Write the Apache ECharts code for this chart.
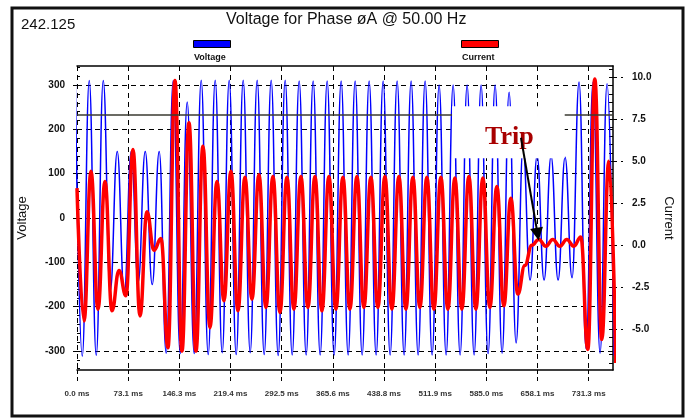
<!DOCTYPE html>
<html><head><meta charset="utf-8">
<script src="https://cdn.jsdelivr.net/npm/echarts@6/dist/echarts.min.js"></script>
<style>html,body{margin:0;padding:0;background:#fff}#c{width:690px;height:419px}</style>
</head><body><div id="c"></div>
<script>
// ---- data ----
const sampleStepMs = 10;          // one half-cycle between extreme samples (50 Hz)
const voltageStartMs = -2.5;      // first voltage sample time
const currentStartMs = 0;         // first current sample time
const voltage = [310,
  -312,310, -310,310, -165,150, -170,150, -145,150, -150,150, -305,310, -306,262,
  -306,311, -308,311, -304,311, -308,311, -304,311, -308,311, -310,311,
  -309,309, -309,309, -309,309, -309,309, -309,309, -309,309, -309,309, -309,309,
  -309,309, -309,309, -309,300, -309,300, -309,300, -309,300, -306,300, -305,284,
  -282,160, -140,140, -140,140, -140,137, -135,307, -295,307, -305,303,
  -310];
const current = [3.4,
  -4.5,4.4, -3.8,3.8, -3.9,-1.5, -3.0,5.7, -4.2,2.0, -0.3,0.4, -6.1,9.8, -6.3,7.3,
  -6.3,5.9, -4.9,3.8, -3.3,4.4, -3.9,4.05, -3.2,4.2, -3.7,4.1, -4.0,4.05,
  -3.8,4.1, -3.7,4.1, -3.9,4.1, -3.8,4.05, -3.8,4.1, -3.7,4.05, -3.7,4.1, -3.8,4.1,
  -3.8,4.05, -3.7,4.05, -3.8,4.05, -3.8,4.0, -3.8,4.1, -3.8,4.0, -3.7,3.5, -3.6,2.8,
  -2.9,-1.2, 0.0,0.35, -0.05,0.35, -0.05,0.35, -0.05,0.5, -6.2,9.9, -5.6,5.0,
  -7.0];
const xTicks = [0, 73.125, 146.25, 219.375, 292.5, 365.625, 438.75, 511.875, 585, 658.125, 731.25];
const xTickLabels = ['0.0 ms','73.1 ms','146.3 ms','219.4 ms','292.5 ms','365.6 ms','438.8 ms','511.9 ms','585.0 ms','658.1 ms','731.3 ms'];
const voltageTicks = [-300,-200,-100,0,100,200,300];
const currentTicks = [-5,-2.5,0,2.5,5,7.5,10];
const timeRange = [0, 766];
const voltageRange = [-343, 343];
const currentRange = [-7.42, 10.67];
const cursorVoltage = 232;
const tripBox = [[536, 252], [697, 135]];          // [ms, V]
const tripArrow = [[634.5, 181], [658.3, -36.6]];  // [ms, V]
const titleText = 'Voltage for Phase øA @ 50.00 Hz';
const cornerText = '242.125';

// ---- build ----
const voltageMinor = []; for (let v = -340; v <= 340; v += 20) voltageMinor.push(v);
const currentMinor = []; for (let v = -7; v <= 10.5; v += 0.5) currentMinor.push(v);
const vData = voltage.map((v, i) => [voltageStartMs + i * sampleStepMs, v]);
const cData = current.map((v, i) => [currentStartMs + i * sampleStepMs, v]);

const FONT = "'Liberation Sans Narrow','Liberation Sans',Arial,sans-serif";
const SANS = "'Liberation Sans',Arial,sans-serif";
const chart = echarts.init(document.getElementById('c'), null, {renderer: 'canvas'});
chart.setOption({
  animation: false,
  backgroundColor: '#fff',
  title: [
    {text: titleText, left: 226, top: 12, padding: 0, textStyle: {fontFamily: SANS, fontSize: 16, fontWeight: 'normal', color: '#111'}},
    {text: cornerText, left: 21, top: 17, padding: 0, textStyle: {fontFamily: SANS, fontSize: 15, fontWeight: 'normal', color: '#111'}},
    {text: 'Voltage', left: 194, top: 53, padding: 0, textStyle: {fontFamily: FONT, fontSize: 9, fontWeight: 'bold', color: '#111'}},
    {text: 'Current', left: 462, top: 53, padding: 0, textStyle: {fontFamily: FONT, fontSize: 9, fontWeight: 'bold', color: '#111'}}
  ],
  legend: [
    {data: ['Voltage'], left: 193, top: 40, padding: 0, itemWidth: 37, itemHeight: 7, icon: 'rect', selectedMode: false, formatter: () => '', itemStyle: {borderColor: '#000', borderWidth: 1}},
    {data: ['Current'], left: 461, top: 40, padding: 0, itemWidth: 37, itemHeight: 7, icon: 'rect', selectedMode: false, formatter: () => '', itemStyle: {borderColor: '#000', borderWidth: 1}}
  ],
  graphic: [{type: 'rect', silent: true, z: 100, shape: {x: 12, y: 8, width: 671, height: 408}, style: {fill: 'none', stroke: '#111', lineWidth: 3}}],
  grid: {left: 77, right: 77, top: 66, bottom: 49, containLabel: false},
  xAxis: [
    {type: 'value', min: timeRange[0], max: timeRange[1], position: 'bottom',
     axisLine: {show: true, onZero: false, lineStyle: {color: '#000', width: 1.5}},
     axisTick: {show: true, customValues: xTicks, length: 12, lineStyle: {color: '#000', type: [4, 3]}},
     axisLabel: {customValues: xTicks, formatter: v => { const k = xTicks.indexOf(v); return k >= 0 ? xTickLabels[k] : ''; }, margin: 20, fontSize: 8, fontWeight: 'bold', fontFamily: FONT, color: '#333'},
     splitLine: {show: true, lineStyle: {color: '#000', width: 1, type: [5, 4]}}},
    {type: 'value', min: timeRange[0], max: timeRange[1], position: 'top',
     axisLine: {show: true, onZero: false, lineStyle: {color: '#000', width: 1.5}}, axisTick: {show: false}, axisLabel: {show: false}, splitLine: {show: false}}
  ],
  yAxis: [
    {type: 'value', min: voltageRange[0], max: voltageRange[1], position: 'left',
     name: 'Voltage', nameLocation: 'middle', nameGap: 48, nameTextStyle: {fontFamily: SANS, fontSize: 13, color: '#111'},
     axisLine: {show: false, onZero: false},
     axisTick: {show: true, customValues: voltageTicks, length: 4, lineStyle: {color: '#000'}},
     axisLabel: {customValues: voltageTicks, margin: 12, fontSize: 10, fontWeight: 'bold', fontFamily: FONT, color: '#111'},
     splitLine: {show: true, lineStyle: {color: '#000', width: 1, type: [5, 4]}}},
    {type: 'value', min: currentRange[0], max: currentRange[1], position: 'right',
     name: 'Current', nameLocation: 'middle', nameGap: 48, nameRotate: -90, nameTextStyle: {fontFamily: SANS, fontSize: 13, color: '#111'},
     axisLine: {show: true, onZero: false, lineStyle: {color: '#000', width: 1.5}},
     axisTick: {show: true, customValues: currentTicks, length: 10, lineStyle: {color: '#000', type: [4, 4]}},
     axisLabel: {customValues: currentTicks, formatter: v => v.toFixed(1), margin: 19, fontSize: 10, fontWeight: 'bold', fontFamily: FONT, color: '#111'},
     splitLine: {show: false}},
    {type: 'value', min: voltageRange[0], max: voltageRange[1], position: 'left', offset: 0,
     axisLine: {show: false, onZero: false}, axisLabel: {show: false}, splitLine: {show: false},
     axisTick: {show: true, inside: true, customValues: voltageMinor, length: 3, lineStyle: {color: '#000'}}},
    {type: 'value', min: currentRange[0], max: currentRange[1], position: 'right', offset: 0,
     axisLine: {show: false, onZero: false}, axisLabel: {show: false}, splitLine: {show: false},
     axisTick: {show: true, inside: true, customValues: currentMinor, length: 4, lineStyle: {color: '#000'}}}
  ],
  series: [
    {name: 'Voltage', type: 'line', xAxisIndex: 0, yAxisIndex: 0, data: vData, showSymbol: false, z: 2,
     smooth: 0.45, smoothMonotone: 'x',
     lineStyle: {color: '#0000ff', width: 1.5}, itemStyle: {color: '#0000ff'},
     markLine: {z: 4, silent: true, symbol: 'none', label: {show: false},
       lineStyle: {color: '#3a3a30', width: 1.5, type: 'solid'}, data: [{yAxis: cursorVoltage}]}},
    {name: 'Current', type: 'line', xAxisIndex: 0, yAxisIndex: 1, data: cData, showSymbol: false, z: 3,
     smooth: 0.45, smoothMonotone: 'x',
     lineStyle: {color: '#ff0000', width: 3.5}, itemStyle: {color: '#ff0000'}},
    {name: 'annotation', type: 'line', xAxisIndex: 0, yAxisIndex: 0, data: [], z: 10,
     markArea: {z: 10, silent: true, itemStyle: {color: '#ffffff'},
       label: {show: true, position: 'inside', formatter: 'Trip', offset: [1, 5], color: '#a80000', fontFamily: "'Liberation Serif','Times New Roman',serif", fontWeight: 'bold', fontSize: 26},
       data: [[{coord: tripBox[0]}, {coord: tripBox[1]}]]},
     markLine: {z: 11, silent: true, symbol: ['none', 'triangle'], symbolSize: 13, label: {show: false},
       lineStyle: {color: '#000', width: 2, type: 'solid'},
       data: [[{coord: tripArrow[0]}, {coord: tripArrow[1]}]]}}
  ]
});
</script></body></html>
